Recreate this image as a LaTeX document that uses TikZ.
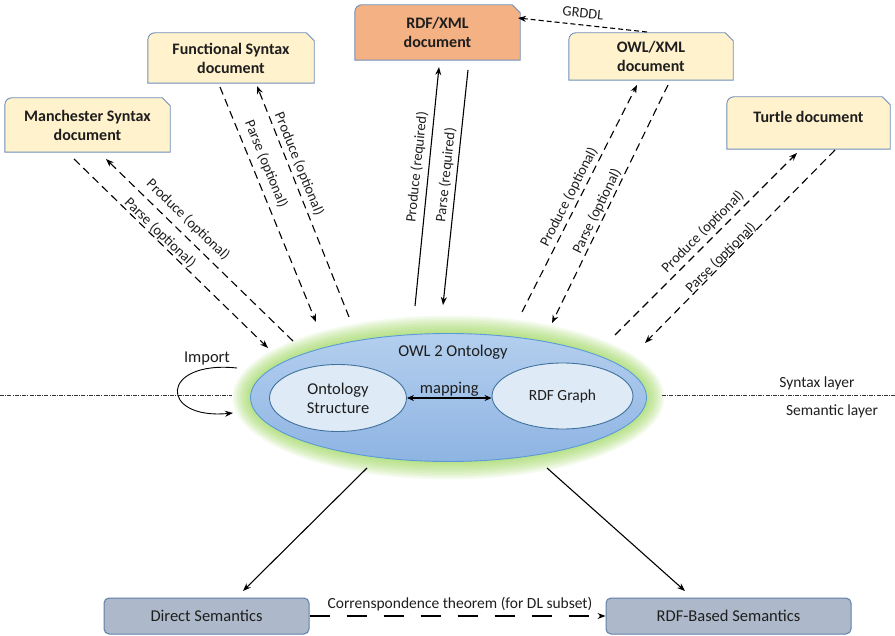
\documentclass[tikz,border=0pt]{standalone}
\usepackage{fontspec}
\setmainfont{Carlito}
\usetikzlibrary{arrows.meta,backgrounds,calc,shapes.geometric}
\definecolor{docfill}{HTML}{FFF2CC}
\definecolor{docline}{HTML}{6F8FBC}
\definecolor{rdffill}{HTML}{F4B183}
\definecolor{ellline}{HTML}{5B9BD5}
\definecolor{elltop}{HTML}{B4CFEE}
\definecolor{ellbot}{HTML}{8EB4E3}
\definecolor{innerfill}{HTML}{DEEBF7}
\definecolor{innerline}{HTML}{41719C}
\definecolor{semfill}{HTML}{ADB9CA}
\definecolor{semline}{HTML}{5F7FA8}
\definecolor{glowc}{HTML}{8FD048}
\definecolor{txt}{HTML}{1E1E1E}
\newcommand\docshape[2]{%
  \path[draw=docline, line width=0.9pt, fill=#2]
    (#1.south west) -- ([yshift=-7pt]#1.north west)
    to[out=90,in=180] ([xshift=7pt]#1.north west)
    -- ([xshift=-8pt]#1.north east) -- ([yshift=-8pt]#1.north east)
    -- (#1.south east) -- cycle;}
\tikzset{
  docnode/.style={inner sep=0pt, text=txt, font=\fontsize{16}{19}\selectfont\bfseries, align=center},
  lbl/.style={text=txt, font=\fontsize{14.5}{16}\selectfont, inner sep=0pt},
  biglbl/.style={text=txt, font=\fontsize{16.5}{18}\selectfont, inner sep=0pt},
  dsh/.style={line width=1.1pt, dash pattern=on 8pt off 5pt, -{Stealth[length=8pt,width=6pt]}},
  sol/.style={line width=1.1pt, -{Stealth[length=8pt,width=6pt]}},
  semnode/.style={draw=semline, line width=1pt, fill=semfill, rounded corners=5pt, text=txt, font=\fontsize{16.5}{18}\selectfont, minimum height=36pt},
  layerline/.style={line width=0.6pt, dash pattern=on 4pt off 1.2pt on 1pt off 1.2pt, draw=black!80},
  inner/.style={draw=innerline, line width=0.9pt, fill=innerfill},
}
\begin{document}
\begin{tikzpicture}[x=1pt,y=-1pt]
\useasboundingbox (0,0) rectangle (895,636);

% document boxes
\node[docnode, minimum width=165pt, minimum height=54pt] (man) at (87.5,125) {Manchester Syntax\\document};
\node[docnode, minimum width=166pt, minimum height=50pt] (fun) at (231,58) {Functional Syntax\\document};
\node[docnode, minimum width=165pt, minimum height=55pt] (rdf) at (437.5,32.5) {RDF/XML\\document};
\node[docnode, minimum width=164pt, minimum height=47pt] (owx) at (651,56.5) {OWL/XML\\document};
\node[docnode, minimum width=163pt, minimum height=52pt, text height=26pt, text depth=26pt] (tur) at (808.5,123) {Turtle document};
\begin{pgfonlayer}{background}
\docshape{man}{docfill}
\docshape{fun}{docfill}
\docshape{rdf}{rdffill}
\docshape{owx}{docfill}
\docshape{tur}{docfill}
\end{pgfonlayer}

% ontology ellipse with glow
\foreach \i in {1,...,12}{
  \fill[glowc, opacity=0.08] (448.5,397.5) ellipse [x radius={198pt+1.5pt*\i}, y radius={64pt+1.5pt*\i}];
}
\node[ellipse, minimum width=396pt, minimum height=128pt, draw=ellline, line width=0.9pt, top color=elltop, bottom color=ellbot, inner sep=0pt] (onto) at (448.5,397.5) {};
\node[biglbl] (ontolbl) at (453,352) {OWL 2 Ontology};
\node[inner, ellipse, minimum width=137pt, minimum height=67pt, inner sep=0pt, align=center, font=\fontsize{16.5}{19}\selectfont, text=txt] (ost) at (338,398) {Ontology\\Structure};
\node[inner, ellipse, minimum width=141pt, minimum height=66pt, inner sep=0pt, font=\fontsize{15.5}{18}\selectfont, text=txt] (rdg) at (562.5,396) {RDF Graph};
\draw[line width=1.1pt, {Stealth[length=7pt,width=6pt]}-{Stealth[length=7pt,width=6pt]}] (ost.east) -- (rdg.west |- ost.east) node[midway, above=1pt, biglbl] {mapping};

% endpoints
\coordinate (m1) at (74,159);   \coordinate (m2) at (268,348);
\coordinate (m3) at (293,341);  \coordinate (m4) at (106,159);
\coordinate (f1) at (220,87);   \coordinate (f2) at (316,322);
\coordinate (f3) at (349,317);  \coordinate (f4) at (257,86);
\coordinate (r1) at (415,306);  \coordinate (r2) at (439,67);
\coordinate (r3) at (468,70);   \coordinate (r4) at (443,305);
\coordinate (g1) at (647,32);   \coordinate (g2) at (518,18);
\coordinate (o1) at (522,312);  \coordinate (o2) at (637,85);
\coordinate (o3) at (668,85);   \coordinate (o4) at (552,323);
\coordinate (t1) at (615,335);  \coordinate (t2) at (797,153);
\coordinate (t3) at (835,150);  \coordinate (t4) at (645,343);

% Manchester
\draw[dsh] (m1) -- (m2);
\draw[dsh] (m3) -- (m4);
\node[lbl, rotate=-44] at (188,220) {Produce (optional)};
\node[lbl, rotate=-44] at (160,233) {Parse (optional)};
% Functional
\draw[dsh] (f1) -- (f2);
\draw[dsh] (f3) -- (f4);
\node[lbl, rotate=-68] at (266,164) {Parse (optional)};
\node[lbl, rotate=-68] at (299,164) {Produce (optional)};
% RDF/XML
\draw[sol] (r1) -- (r2);
\draw[sol] (r3) -- (r4);
\node[lbl, rotate=84] at (417,167) {Produce (required)};
\node[lbl, rotate=84] at (446,175) {Parse (required)};
% GRDDL
\draw[line width=1.1pt, dash pattern=on 5pt off 3pt, -{Stealth[length=8pt,width=6pt]}] (g1) -- (g2);
\node[lbl, rotate=-6] at (583,13) {GRDDL};
% OWL/XML
\draw[dsh] (o1) -- (o2);
\draw[dsh] (o3) -- (o4);
\node[lbl, rotate=63] at (569,197) {Produce (optional)};
\node[lbl, rotate=64] at (597,211) {Parse (optional)};
% Turtle
\draw[dsh] (t1) -- (t2);
\draw[dsh] (t3) -- (t4);
\node[lbl, rotate=45] at (703,232) {Produce (optional)};
\node[lbl, rotate=45] at (721,258) {Parse (optional)};

% layers
\coordinate (la) at (0,395); \coordinate (lb) at (232,395);
\coordinate (lc) at (662,395); \coordinate (ld) at (895,395);
\draw[layerline] (la) -- (lb);
\draw[layerline] (lc) -- (ld);
\node[lbl, font=\fontsize{15.5}{18}\selectfont] at (817,383) {Syntax layer};
\node[lbl, font=\fontsize{15.5}{18}\selectfont] at (832,411) {Semantic layer};

% import
\node[biglbl] (imp) at (207,359) {Import};
\coordinate (i1) at (237,368); \coordinate (i2) at (233,413);
\draw[line width=0.9pt, -{Stealth[length=8pt,width=6pt]}] (i1) .. controls (159,360) and (159,420) .. (i2);

% semantics
\node[semnode, minimum width=205pt] (ds) at (206.5,616) {Direct Semantics};
\node[semnode, minimum width=245pt] (rbs) at (728.5,616) {RDF-Based Semantics};
\coordinate (b1) at (367,468); \coordinate (b2) at (547,468);
\draw[sol] (b1) -- (243,591) coordinate (b1e);
\draw[sol] (b2) -- (685,591) coordinate (b2e);
\draw[line width=1.1pt, dash pattern=on 20pt off 17pt, -{Stealth[length=8pt,width=6pt]}] (ds.east) -- (rbs.west);
\node[lbl, font=\fontsize{15.5}{18}\selectfont] at (460,604) {Correnspondence theorem (for DL subset)};
\end{tikzpicture}
\end{document}
